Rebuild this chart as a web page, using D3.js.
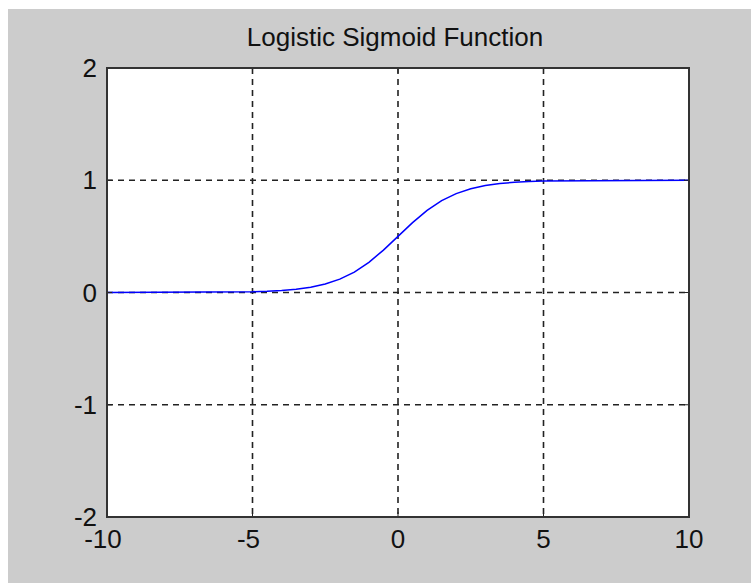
<!DOCTYPE html>
<html>
<head>
<meta charset="utf-8">
<script src="https://cdn.jsdelivr.net/npm/d3@7"></script>
<style>
  body { margin: 0; background: #fff; }
  text { font-family: "Liberation Sans", Arial, sans-serif; fill: #111; }
</style>
</head>
<body>
<div id="chart"></div>
<script>
// values
var xs = [-10, -5, -4.5, -4, -3.5, -3, -2.5, -2, -1.5, -1, -0.5, 0, 0.5, 1, 1.5, 2, 2.5, 3, 3.5, 4, 4.5, 5, 10];
var ys = [0.00, 0.007, 0.011, 0.018, 0.029, 0.047, 0.076, 0.119, 0.182, 0.269, 0.378, 0.5, 0.622, 0.731, 0.818, 0.881, 0.924, 0.953, 0.971, 0.982, 0.989, 0.993, 1.0];
var xTicks = [-10, -5, 0, 5, 10];
var yTicks = [-2, -1, 0, 1, 2];
var title = "Logistic Sigmoid Function";

var W = 751, H = 583;
var margin = {top: 68, right: 62, bottom: 66, left: 107};

var svg = d3.select("#chart").append("svg")
    .attr("width", W)
    .attr("height", H);

// grey figure background
svg.append("rect")
    .attr("x", 8).attr("y", 9)
    .attr("width", W - 8).attr("height", H - 9)
    .attr("fill", "#cccccc");

var x = d3.scaleLinear().domain([-10, 10]).range([margin.left, W - margin.right]);
var y = d3.scaleLinear().domain([-2, 2]).range([H - margin.bottom, margin.top]);

svg.append("rect")
    .attr("x", x(-10)).attr("y", y(2))
    .attr("width", x(10) - x(-10)).attr("height", y(-2) - y(2))
    .attr("fill", "#fff");

// dashed grid
var grid = svg.append("g").attr("class", "grid")
    .attr("stroke", "#222")
    .attr("stroke-width", 1.6)
    .attr("stroke-dasharray", "6,5");
grid.selectAll("line.v")
    .data(xTicks.slice(1, -1))
  .enter().append("line")
    .attr("class", "v")
    .attr("x1", function(d) { return x(d); })
    .attr("x2", function(d) { return x(d); })
    .attr("y1", y(2)).attr("y2", y(-2));
grid.selectAll("line.h")
    .data(yTicks.slice(1, -1))
  .enter().append("line")
    .attr("class", "h")
    .attr("y1", function(d) { return y(d); })
    .attr("y2", function(d) { return y(d); })
    .attr("x1", x(-10)).attr("x2", x(10));

// curve
var line = d3.line()
    .x(function(d, i) { return x(xs[i]); })
    .y(function(d) { return y(d); });

svg.append("path")
    .datum(ys)
    .attr("d", line)
    .attr("fill", "none")
    .attr("stroke", "#0000ff")
    .attr("stroke-width", 1.5);

// inner tick marks
var ticks = svg.append("g").attr("stroke", "#222").attr("stroke-width", 1);
xTicks.forEach(function(t) {
  ticks.append("line").attr("x1", x(t)).attr("x2", x(t)).attr("y1", y(-2)).attr("y2", y(-2) - 5);
  ticks.append("line").attr("x1", x(t)).attr("x2", x(t)).attr("y1", y(2)).attr("y2", y(2) + 5);
});
yTicks.forEach(function(t) {
  ticks.append("line").attr("y1", y(t)).attr("y2", y(t)).attr("x1", x(-10)).attr("x2", x(-10) + 5);
  ticks.append("line").attr("y1", y(t)).attr("y2", y(t)).attr("x1", x(10)).attr("x2", x(10) - 5);
});

// box
svg.append("rect")
    .attr("x", x(-10)).attr("y", y(2))
    .attr("width", x(10) - x(-10)).attr("height", y(-2) - y(2))
    .attr("fill", "none")
    .attr("stroke", "#333")
    .attr("stroke-width", 2);

// tick labels
svg.selectAll("text.xl")
    .data(xTicks)
  .enter().append("text")
    .attr("class", "xl")
    .attr("x", function(d) { return x(d) + (d < 0 ? -4 : 0); })
    .attr("y", y(-2) + 31)
    .attr("text-anchor", "middle")
    .style("font-size", "26px")
    .text(function(d) { return String(d); });

svg.selectAll("text.yl")
    .data(yTicks)
  .enter().append("text")
    .attr("class", "yl")
    .attr("x", x(-10) - 10)
    .attr("y", function(d) { return y(d) + 9; })
    .attr("text-anchor", "end")
    .style("font-size", "26px")
    .text(function(d) { return String(d); });

svg.append("text")
    .attr("x", (x(-10) + x(10)) / 2 - 3)
    .attr("y", 46)
    .attr("text-anchor", "middle")
    .style("font-size", "26px")
    .text(title);
</script>
</body>
</html>
